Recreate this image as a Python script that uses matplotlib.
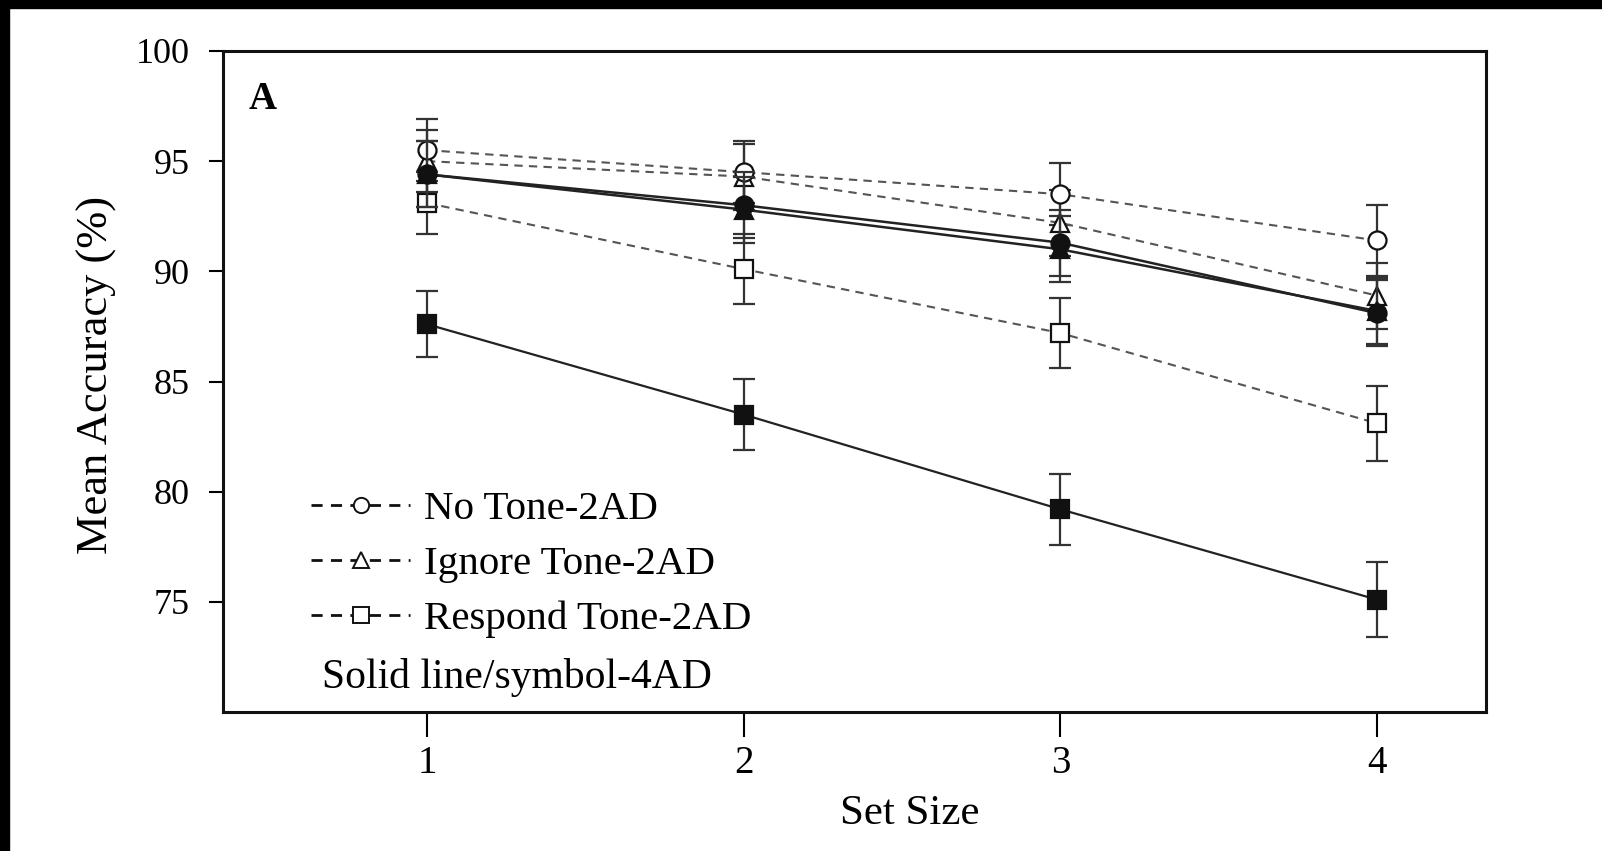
import matplotlib
matplotlib.use("Agg")
import matplotlib.pyplot as plt
from matplotlib.lines import Line2D
from matplotlib.patches import Rectangle

plt.rcParams['font.family'] = ['Liberation Serif', 'DejaVu Serif']

# set size on the x axis
set_size = [1, 2, 3, 4]

# mean accuracy (%), 2AD = dashed/open, 4AD = solid/filled
no_tone_2ad = [95.5, 94.5, 93.5, 91.4]
no_tone_2ad_err = [1.4, 1.4, 1.4, 1.6]
ignore_tone_2ad = [95.0, 94.3, 92.2, 88.9]
ignore_tone_2ad_err = [1.4, 1.5, 1.5, 1.5]
respond_tone_2ad = [93.1, 90.1, 87.2, 83.1]
respond_tone_2ad_err = [1.4, 1.6, 1.6, 1.7]

no_tone_4ad = [94.4, 93.0, 91.3, 88.1]
no_tone_4ad_err = [1.5, 1.5, 1.5, 1.5]
ignore_tone_4ad = [94.4, 92.8, 91.0, 88.2]
ignore_tone_4ad_err = [1.5, 1.5, 1.5, 1.5]
respond_tone_4ad = [87.6, 83.5, 79.2, 75.1]
respond_tone_4ad_err = [1.5, 1.6, 1.6, 1.7]

legend_labels = ['No Tone-2AD', 'Ignore Tone-2AD', 'Respond Tone-2AD']
note_text = 'Solid line/symbol-4AD'

fig = plt.figure(figsize=(16.02, 8.51), dpi=100)
ax = fig.add_axes([0.1392, 0.1633, 0.7884, 0.7768])

# black strips along the top and left edge of the scan
fig.patches.append(Rectangle((0, 1 - 8 / 851), 1, 8 / 851, transform=fig.transFigure,
                             color='black', zorder=10))
fig.patches.append(Rectangle((0, 0), 9 / 1602, 1, transform=fig.transFigure,
                             color='black', zorder=10))

dash = (0, (4, 3))
grey = '#555555'

def series(y, err, marker, filled, ls, color, lw, z):
    ax.errorbar(set_size, y, yerr=err, fmt='none', ecolor='#333333',
                elinewidth=1.6, capsize=8, capthick=1.6, zorder=z)
    ax.plot(set_size, y, linestyle=ls, color=color, lw=lw, zorder=z + 0.5)
    ax.plot(set_size, y, linestyle='none', marker=marker, ms=13,
            mfc='#111111' if filled else 'white', mec='#111111', mew=1.6, zorder=z + 1)

series(respond_tone_2ad, respond_tone_2ad_err, 's', False, dash, grey, 1.5, 2)
series(ignore_tone_2ad, ignore_tone_2ad_err, '^', False, dash, grey, 1.5, 2)
series(no_tone_2ad, no_tone_2ad_err, 'o', False, dash, grey, 1.5, 2)
series(respond_tone_4ad, respond_tone_4ad_err, 's', True, '-', '#222222', 1.6, 5)
series(ignore_tone_4ad, ignore_tone_4ad_err, '^', True, '-', '#222222', 1.8, 5)
series(no_tone_4ad, no_tone_4ad_err, 'o', True, '-', '#222222', 1.8, 5)

ax.set_xlim(0.356, 4.344)
ax.set_ylim(70, 100)
ax.set_xticks(set_size)
ax.set_yticks([75, 80, 85, 90, 95, 100])
ax.tick_params(axis='x', direction='out', length=18, width=1.5, labelsize=28, pad=6)
ax.tick_params(axis='y', direction='out', length=10, width=1.5, labelsize=26, pad=14)
for s in ax.spines.values():
    s.set_linewidth(2.2)
    s.set_color('#111111')

ax.set_xlabel('Set Size', fontsize=31)
ax.xaxis.set_label_coords(0.544, -0.125)
ax.set_ylabel('Mean Accuracy (%)', fontsize=32)
ax.yaxis.set_label_coords(-0.084, 0.51)

ax.text(0.02, 0.955, 'A', transform=ax.transAxes, fontsize=28, fontweight='bold',
        va='top', ha='left')

handles = [Line2D([], [], linestyle=dash, color='#111111', lw=2, marker=m, ms=11,
                  mfc='white', mec='#111111', mew=1.4)
           for m in ['o', '^', 's']]
ax.legend(handles, legend_labels, loc='upper left', bbox_to_anchor=(0.07, 0.335),
          frameon=False, fontsize=29.5, handlelength=2.4, handletextpad=0.35,
          labelspacing=0.42, borderpad=0, borderaxespad=0)
ax.text(0.078, 0.052, note_text, transform=ax.transAxes, fontsize=30,
        va='center', ha='left')

fig.savefig('out.png', dpi=100)
